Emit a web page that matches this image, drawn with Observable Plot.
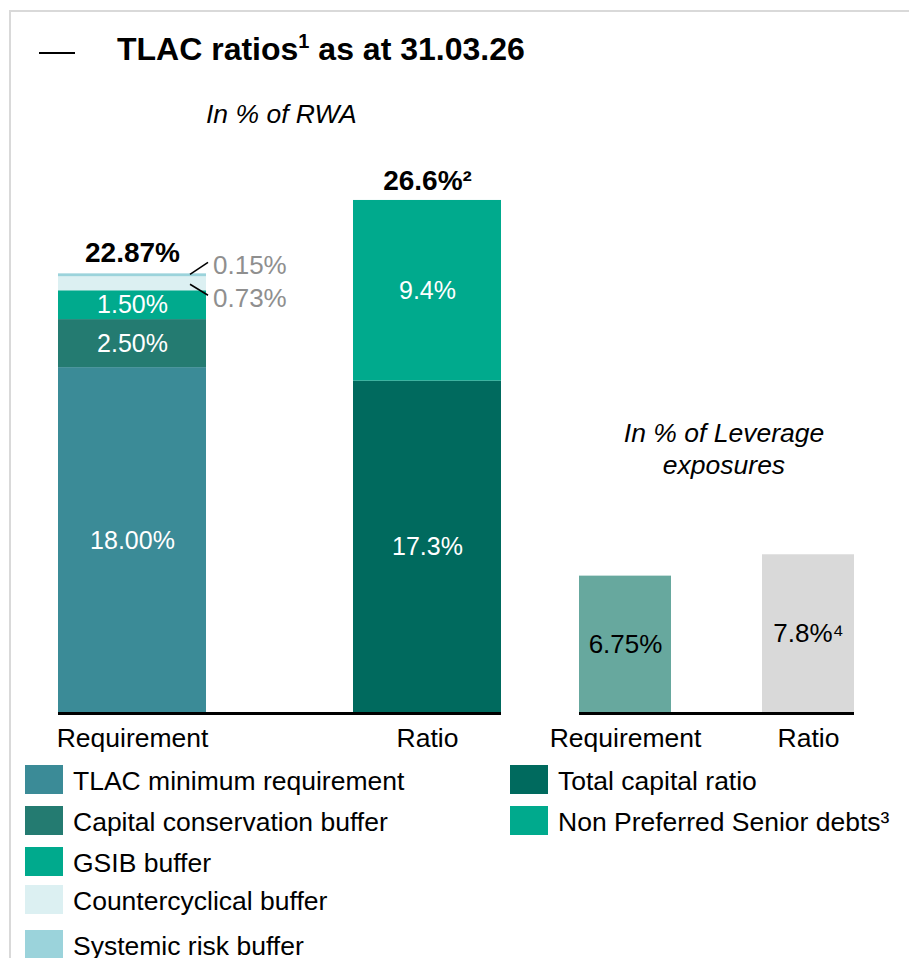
<!DOCTYPE html>
<html>
<head>
<meta charset="utf-8">
<script src="https://cdn.jsdelivr.net/npm/d3@7"></script>
<script src="https://cdn.jsdelivr.net/npm/@observablehq/plot@0.6"></script>
<style>
  body { margin: 0; background: #fff; font-family: "Liberation Sans", Arial, sans-serif; color: #000; }
  #root { position: relative; width: 909px; height: 958px; overflow: hidden; background: #fff; }
  .frame { position: absolute; left: 9px; top: 10px; right: -4px; bottom: -4px; border-top: 2px solid #d9d9d9; border-left: 2px solid #d9d9d9; }
  .dash { position: absolute; left: 39px; top: 52px; width: 36px; height: 2px; background: #000; }
  .title { position: absolute; left: 117px; top: 31px; font-weight: bold; font-size: 32px; line-height: 36px; white-space: nowrap; }
  .title sup { font-size: 20px; line-height: 0; vertical-align: 0.6em; }
  .sub { position: absolute; font-style: italic; font-size: 26.5px; line-height: 32px; white-space: nowrap; }
  .plot { position: absolute; top: 0; }
  .leg { position: absolute; height: 29px; }
  .leg .sw { position: absolute; left: 0; top: 0; width: 38px; height: 29px; }
  .leg .tx { position: absolute; left: 48px; top: 2px; font-size: 26.5px; line-height: 29px; white-space: nowrap; }
</style>
</head>
<body>
<div id="root">
  <div class="frame"></div>
  <div class="dash"></div>
  <div class="title">TLAC ratios<sup>1</sup> as at 31.03.26</div>
  <div class="sub" style="left:206px; top:98px;">In % of RWA</div>
  <div class="sub" style="left:574px; top:417px; width:300px; text-align:center; white-space:normal;">In % of Leverage<br>exposures</div>
</div>
<script>
// ---- data ----
const rwaBars = ["Requirement", "Ratio"];
const rwaSeries = ["TLAC minimum requirement", "Capital conservation buffer", "GSIB buffer", "Countercyclical buffer", "Systemic risk buffer", "Total capital ratio", "Non Preferred Senior debts³"];
const rwaSeriesBar = ["Requirement", "Requirement", "Requirement", "Requirement", "Requirement", "Ratio", "Ratio"];
const rwaValues = [18.00, 2.50, 1.50, 0.73, 0.15, 17.3, 9.4];
const rwaLabels = ["18.00%", "2.50%", "1.50%", "0.73%", "0.15%", "17.3%", "9.4%"];
const rwaTotals = [22.87, 26.6];
const rwaTotalLabels = ["22.87%", "26.6%²"];

const levBars = ["Requirement", "Ratio"];
const levValues = [6.75, 7.8];
const levLabels = ["6.75%", "7.8%⁴"];

const legendLeft = ["TLAC minimum requirement", "Capital conservation buffer", "GSIB buffer", "Countercyclical buffer", "Systemic risk buffer"];
const legendRight = ["Total capital ratio", "Non Preferred Senior debts³"];

// ---- styles ----
const seriesColors = ["#3b8b97", "#247b71", "#00aa8d", "#dcf0f2", "#9bd3db", "#006a5e", "#00aa8d"];
const levColors = ["#67a89e", "#d9d9d9"];
const FONT = '"Liberation Sans", Arial, sans-serif';

const rwa = rwaSeries.map((s, i) => ({series: s, bar: rwaSeriesBar[i], value: rwaValues[i], label: rwaLabels[i]}));
const rwaTot = rwaBars.map((b, i) => ({bar: b, value: rwaTotals[i], label: rwaTotalLabels[i]}));
const lev = levBars.map((b, i) => ({bar: b, value: levValues[i], label: levLabels[i], color: levColors[i]}));

// leader-line labels for the thin segments of the requirement stack
function smallSegmentLabels(index, scales) {
  const x = scales.x, y = scales.y;
  const bw = x.bandwidth ? x.bandwidth() : 0;
  const g = d3.create("svg:g");
  const req = rwa.filter(d => d.bar === "Requirement");
  let cum = 0;
  const segs = req.map(d => { const s = {...d, y1: cum, y2: cum + d.value}; cum += d.value; return s; });
  const small = segs.filter(d => d.value < 1).reverse(); // top first
  const xr = x("Requirement") + bw;
  small.forEach((d, k) => {
    const up = k === 0;
    const yy = up ? y(d.y2) : y((d.y1 + d.y2) / 2);
    const yEnd = up ? yy - 11 : yy + 12;
    g.append("line").attr("x1", xr - 16).attr("y1", yy + 1).attr("x2", xr + 2).attr("y2", yEnd)
      .attr("stroke", "#000").attr("stroke-width", 1.5);
    g.append("text").attr("x", xr + 7).attr("y", up ? yy - 8 : yy + 15).attr("dy", "0.35em")
      .attr("text-anchor", "start")
      .attr("fill", "#8f8f8f").attr("font-size", 26).attr("font-family", FONT).text(d.label);
  });
  return g.node();
}

const left = Plot.plot({
  width: 540, height: 760,
  marginTop: 150, marginBottom: 47, marginLeft: 58, marginRight: 39,
  style: {fontFamily: FONT, fontSize: "26px", color: "#000", background: "transparent", overflow: "visible"},
  x: {domain: rwaBars, paddingInner: 0.5, paddingOuter: 0, label: null},
  y: {domain: [0, 29.3], axis: null},
  color: {domain: rwaSeries, range: seriesColors},
  marks: [
    Plot.barY(rwa, {x: "bar", y: "value", fill: "series"}),
    Plot.text(rwa, Plot.stackY({x: "bar", y: "value", text: d => d.value >= 1 ? d.label : "", fill: "#fff", fontSize: 25})),
    Plot.text(rwaTot, {x: "bar", y: "value", text: "label", dy: -21, fontWeight: "bold", fontSize: 28, fill: "#000"}),
    smallSegmentLabels,
    Plot.ruleY([0], {stroke: "#000", strokeWidth: 3}),
    Plot.axisX({tickSize: 0, tickPadding: 15, fontSize: 26.5, label: null})
  ]
});
left.classList.add("plot");
left.style.left = "0px";

const right = Plot.plot({
  width: 369, height: 760,
  marginTop: 400, marginBottom: 47, marginLeft: 39, marginRight: 55,
  style: {fontFamily: FONT, fontSize: "26px", color: "#000", background: "transparent", overflow: "visible"},
  x: {domain: levBars, paddingInner: 0.5, paddingOuter: 0, label: null},
  y: {domain: [0, 15.38], axis: null},
  color: {type: "identity"},
  marks: [
    Plot.barY(lev, {x: "bar", y: "value", fill: "color"}),
    Plot.text(lev, {x: "bar", y: d => d.value / 2, text: "label", fill: "#000", fontSize: 26}),
    Plot.ruleY([0], {stroke: "#000", strokeWidth: 3}),
    Plot.axisX({tickSize: 0, tickPadding: 15, fontSize: 26.5, label: null})
  ]
});
right.classList.add("plot");
right.style.left = "540px";

const root = document.getElementById("root");
root.appendChild(left);
root.appendChild(right);

// ---- legend ----
const leftTops = [765, 806, 847, 885, 930];
const rightTops = [765, 806];
function addLegend(names, tops, x) {
  names.forEach((n, i) => {
    const item = document.createElement("div");
    item.className = "leg";
    item.style.left = x + "px";
    item.style.top = tops[i] + "px";
    const sw = document.createElement("div");
    sw.className = "sw";
    sw.style.background = seriesColors[rwaSeries.indexOf(n)];
    const tx = document.createElement("div");
    tx.className = "tx";
    tx.textContent = n;
    item.appendChild(sw);
    item.appendChild(tx);
    root.appendChild(item);
  });
}
addLegend(legendLeft, leftTops, 25);
addLegend(legendRight, rightTops, 510);
</script>
</body>
</html>
